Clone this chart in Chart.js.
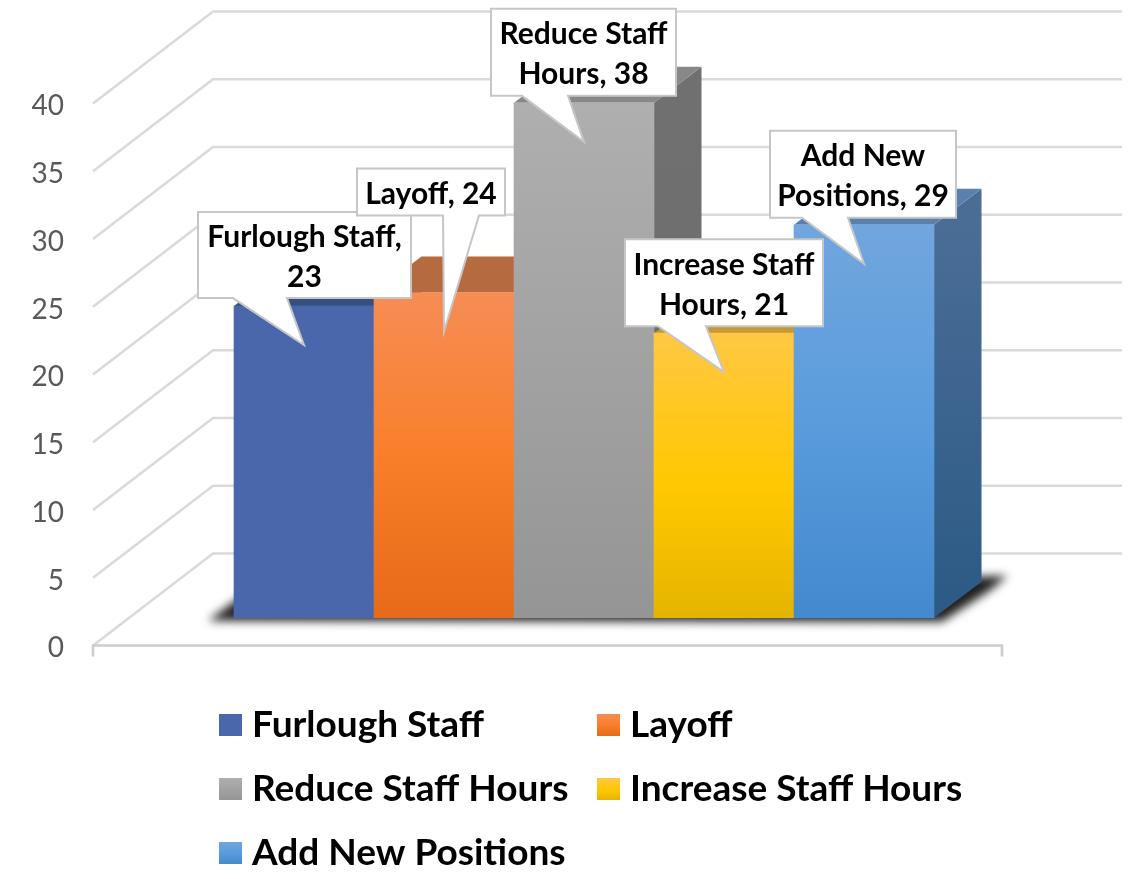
<!DOCTYPE html>
<html><head><meta charset="utf-8">
<style>html,body{margin:0;padding:0;background:#fff}canvas{display:block}#w{width:1140px;height:879px;position:relative}</style>
<script src="https://cdn.jsdelivr.net/npm/chart.js@4"></script>
</head><body><div id="w"><canvas id="c"></canvas></div>
<script>
const categories = ['Furlough Staff','Layoff','Reduce Staff Hours','Increase Staff Hours','Add New Positions'];
const values = [23,24,38,21,29];
const labelLines = [['Furlough Staff,','23'],['Layoff, 24'],['Reduce Staff','Hours, 38'],['Increase Staff','Hours, 21'],['Add New','Positions, 29']];
const yTicks = [0,5,10,15,20,25,30,35,40];
const frontStops = [
 [[0,'#4A67AB'],[1,'#4A67AB']],
 [[0,'#F68D55'],[0.5,'#F97F2B'],[1,'#E66A17']],
 [[0,'#AFAFAF'],[1,'#959595']],
 [[0,'#FFC843'],[0.55,'#FFC800'],[1,'#E5B400']],
 [[0,'#71A6DE'],[0.5,'#5A9CDC'],[1,'#4389CE']]
];
const topColors = ['#35507F','#B56A40','#888888','#C49A35','#5A80AD'];
const sideTop = ['#2F4A78','#A85F35','#707070','#B58E20','#4A6D96'];
const sideBottom = ['#2F4A78','#A85F35','#6C6C6C','#B58E20','#2B5A85'];
// callout box relative to the bar centre / bar top: left, right, top, bottom
const callouts = [[-106,107,-94,-8],[-87,61,-124,-77],[-93,92,-94,-7],[-99,99,-94,-7],[-94,92,-94,-7]];
const tailBase = [[-71,-17],[-1,35],[-62,-16],[-66,-18],[-62,-16]];
const TAIL_DROP = 39, DEPTH_X = 47.5, DEPTH_Y = -36, WALL_X = 120, WALL_Y = -92;
const LABEL_SHIFT = 3; // tick text sits this far under its gridline
const FONT = 'Lato, Carlito, sans-serif';
const legendRows = [[0,1],[2,3],[4]];
const legendCols = [219,597], legendY = [725,789,853];

function grad(ctx,y0,y1,stops){const g=ctx.createLinearGradient(0,y0,0,y1);stops.forEach(s=>g.addColorStop(s[0],s[1]));return g;}

const decor = {
 id:'decor',
 beforeDatasetsDraw(chart){
  const c=chart.ctx, y=chart.scales.y, y2=chart.scales.y2, bars=chart.getDatasetMeta(0).data;
  const x0=93, x1=1002;
  c.save();
  // walls
  c.lineWidth=2.6; c.strokeStyle='#DADADA'; c.lineCap='butt'; c.lineJoin='miter';
  yTicks.forEach(v=>{
    const p=y.getPixelForValue(v)-LABEL_SHIFT;
    c.beginPath(); c.moveTo(x0,p); c.lineTo(x0+WALL_X,p+WALL_Y); c.lineTo(x1+WALL_X,p+WALL_Y); c.stroke();
  });
  const p0=y.getPixelForValue(0)-LABEL_SHIFT;
  c.strokeStyle='#CDCDCD';
  c.beginPath(); c.moveTo(x0,p0+11); c.lineTo(x0,p0); c.lineTo(x1,p0); c.lineTo(x1,p0+11); c.stroke();
  // floor shadow
  const base=y2.getPixelForValue(0), L=bars[0].x-bars[0].width/2, R=bars[4].x+bars[4].width/2;
  c.filter='blur(5px)'; c.fillStyle='#202020';
  c.beginPath();
  c.moveTo(L-26,base+3); c.lineTo(L+8,base-22); c.lineTo(R+DEPTH_X+26,base+DEPTH_Y-6);
  c.lineTo(R+DEPTH_X+8,base+DEPTH_Y+9); c.lineTo(R+8,base+4); c.closePath(); c.fill();
  c.filter='none';
  // sides and tops, left to right
  bars.forEach((b,i)=>{
    const l=b.x-b.width/2, r=b.x+b.width/2, t=b.y;
    c.fillStyle=grad(c,t,base,[[0,sideTop[i]],[1,sideBottom[i]]]);
    c.beginPath(); c.moveTo(r,t); c.lineTo(r+DEPTH_X,t+DEPTH_Y); c.lineTo(r+DEPTH_X,base+DEPTH_Y); c.lineTo(r,base); c.closePath(); c.fill();
    c.fillStyle=topColors[i];
    c.beginPath(); c.moveTo(l,t); c.lineTo(l+DEPTH_X,t+DEPTH_Y); c.lineTo(r+DEPTH_X,t+DEPTH_Y); c.lineTo(r,t); c.closePath(); c.fill();
  });
  c.restore();
 },
 afterDatasetsDraw(chart){
  const c=chart.ctx, bars=chart.getDatasetMeta(0).data;
  c.save();
  [0,1,2,3,4].forEach(i=>{
    const b=bars[i], q=callouts[i], tb=tailBase[i];
    const x=b.x, t=b.y;
    const L=x+q[0],R=x+q[1],T=t+q[2],B=t+q[3];
    c.fillStyle='#fff'; c.strokeStyle='#C6C6C6'; c.lineWidth=2; c.lineJoin='miter';
    c.beginPath();
    c.moveTo(L,T); c.lineTo(R,T); c.lineTo(R,B); c.lineTo(x+tb[1],B);
    c.lineTo(x,t+TAIL_DROP); c.lineTo(x+tb[0],B); c.lineTo(L,B); c.closePath();
    c.fill(); c.stroke();
    c.fillStyle='#000'; c.font='700 30px '+FONT; c.textAlign='center'; c.textBaseline='middle';
    const lines=labelLines[i], cx=(L+R)/2, cy=(T+B)/2;
    lines.forEach((s,k)=>c.fillText(s,cx,cy+2.5+(k-(lines.length-1)/2)*40));
  });
  // legend
  legendRows.forEach((row,r)=>row.forEach((idx,k)=>{
    const sx=legendCols[k], sy=legendY[r];
    c.fillStyle=grad(c,sy-11,sy+11,frontStops[idx]);
    c.fillRect(sx,sy-11,23,22);
    c.fillStyle='#000'; c.font='700 37px '+FONT; c.textAlign='left'; c.textBaseline='middle';
    c.fillText(categories[idx],sx+33,sy);
  }));
  c.restore();
 }
};

new Chart(document.getElementById('c'),{
 type:'bar',
 data:{labels:categories,datasets:[{
   data:values, yAxisID:'y2', clip:false, barPercentage:1, categoryPercentage:1, borderWidth:0,
   backgroundColor(ctx){
     const ch=ctx.chart; if(!ch.chartArea||ctx.dataIndex===undefined) return '#888';
     const y2=ch.scales.y2;
     return grad(ch.ctx,y2.getPixelForValue(values[ctx.dataIndex]),y2.getPixelForValue(0),frontStops[ctx.dataIndex]);
   }
 }]},
 options:{
  responsive:true, maintainAspectRatio:false, animation:false,
  layout:{padding:{left:20,right:206,top:103.5,bottom:233.5}},
  plugins:{legend:{display:false},tooltip:{enabled:false},title:{display:false}},
  scales:{
   x:{display:false,offset:true,grid:{display:false}},
   y:{position:'left',min:LABEL_SHIFT/-13.55+0.44,max:40+LABEL_SHIFT/-13.55+0.44,
      afterBuildTicks(s){s.ticks=yTicks.map(v=>({value:v}));},
      afterFit(s){s.width=214;s.paddingTop=0;s.paddingBottom=0;},
      grid:{display:false,drawTicks:false},border:{display:false},
      ticks:{padding:170,color:'#595959',font:{family:FONT,size:28,weight:'400'},autoSkip:false}},
   y2:{display:false,min:-2.05,max:37.95}
  }
 },
 plugins:[decor]
});
</script></body></html>
